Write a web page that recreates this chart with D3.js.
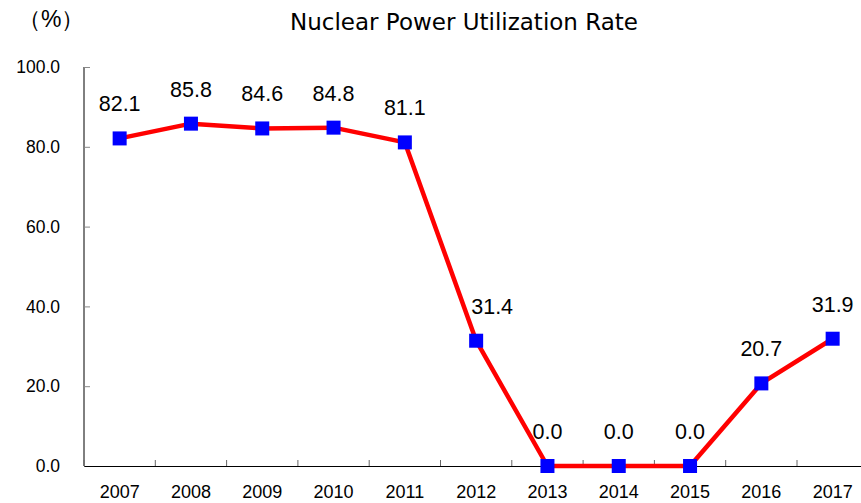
<!DOCTYPE html>
<html>
<head>
<meta charset="utf-8">
<script src="https://cdn.jsdelivr.net/npm/d3@7"></script>
<style>
  body { margin: 0; background: #fff; }
  svg { display: block; font-family: "Liberation Sans", Arial, sans-serif; }
</style>
</head>
<body>
<div id="chart"></div>
<script>
// Nuclear power utilization rate

var years = ["2007", "2008", "2009", "2010", "2011", "2012", "2013", "2014", "2015", "2016", "2017"];
var rates = [82.1, 85.8, 84.6, 84.8, 81.1, 31.4, 0.0, 0.0, 0.0, 20.7, 31.9];
var yTicks = [0, 20, 40, 60, 80, 100];

var width = 861, height = 503;
var margin = {left: 84, top: 67, bottom: 37};

var svg = d3.select("#chart").append("svg")
    .attr("width", width)
    .attr("height", height);

var x = d3.scaleBand()
    .domain(years)
    .range([margin.left, margin.left + 11 * 71.3]);

var y = d3.scaleLinear()
    .domain([0, 100])
    .range([height - margin.bottom, margin.top]);

// title + unit
svg.append("text")
    .attr("x", 464)
    .attr("y", 30)
    .attr("text-anchor", "middle")
    .attr("font-family", "'DejaVu Sans', sans-serif")
    .attr("font-size", "23px")
    .text("Nuclear Power Utilization Rate");

svg.append("text")
    .attr("x", 18)
    .attr("y", 27)
    .attr("font-size", "23px")
    .text("（%）");

// y axis
var yAxis = svg.append("g")
    .attr("transform", "translate(" + margin.left + ",0)")
    .call(d3.axisRight(y).tickValues(yTicks).tickSize(6).tickFormat(d3.format(".1f")));
yAxis.select(".domain").attr("stroke", "#000").attr("d", "M0," + y(0) + "V" + y(100));
yAxis.selectAll(".tick line").attr("stroke", "#888");
yAxis.selectAll(".tick text")
    .attr("x", -24)
    .attr("text-anchor", "end")
    .attr("font-size", "17.5px")
    .attr("fill", "#000");

// x axis
var xAxis = svg.append("g")
    .attr("transform", "translate(0," + y(0) + ")")
    .call(d3.axisBottom(x).tickSize(0));
xAxis.select(".domain").attr("stroke", "#000");
xAxis.selectAll(".tick text")
    .attr("dy", 0)
    .attr("y", 32)
    .attr("font-size", "18px")
    .attr("fill", "#000");

// category boundary ticks
svg.append("g").selectAll("line")
    .data(years)
    .enter().append("line")
    .attr("x1", function(d) { return x(d); })
    .attr("x2", function(d) { return x(d); })
    .attr("y1", y(0))
    .attr("y2", y(0) - 6)
    .attr("stroke", "#666");

var cx = function(d, i) { return x(years[i]) + x.bandwidth() / 2; };

var line = d3.line()
    .x(function(d, i) { return cx(d, i); })
    .y(function(d) { return y(d); });

svg.append("path")
    .datum(rates)
    .attr("fill", "none")
    .attr("stroke", "#ff0000")
    .attr("stroke-width", 4.5)
    .attr("stroke-linejoin", "round")
    .attr("d", line);

var ms = 14;
svg.selectAll(".pt")
    .data(rates)
    .enter().append("rect")
    .attr("class", "pt")
    .attr("x", function(d, i) { return cx(d, i) - ms / 2; })
    .attr("y", function(d) { return y(d) - ms / 2; })
    .attr("width", ms)
    .attr("height", ms)
    .attr("fill", "#0000ff");

// value labels (2012 one was nudged right in the original)
svg.selectAll(".lbl")
    .data(rates)
    .enter().append("text")
    .attr("class", "lbl")
    .attr("x", function(d, i) { return cx(d, i) + (years[i] === "2012" ? 16 : 0); })
    .attr("y", function(d) { return y(d) - 27; })
    .attr("text-anchor", "middle")
    .attr("font-size", "21.5px")
    .text(function(d) { return d3.format(".1f")(d); });
</script>
</body>
</html>
